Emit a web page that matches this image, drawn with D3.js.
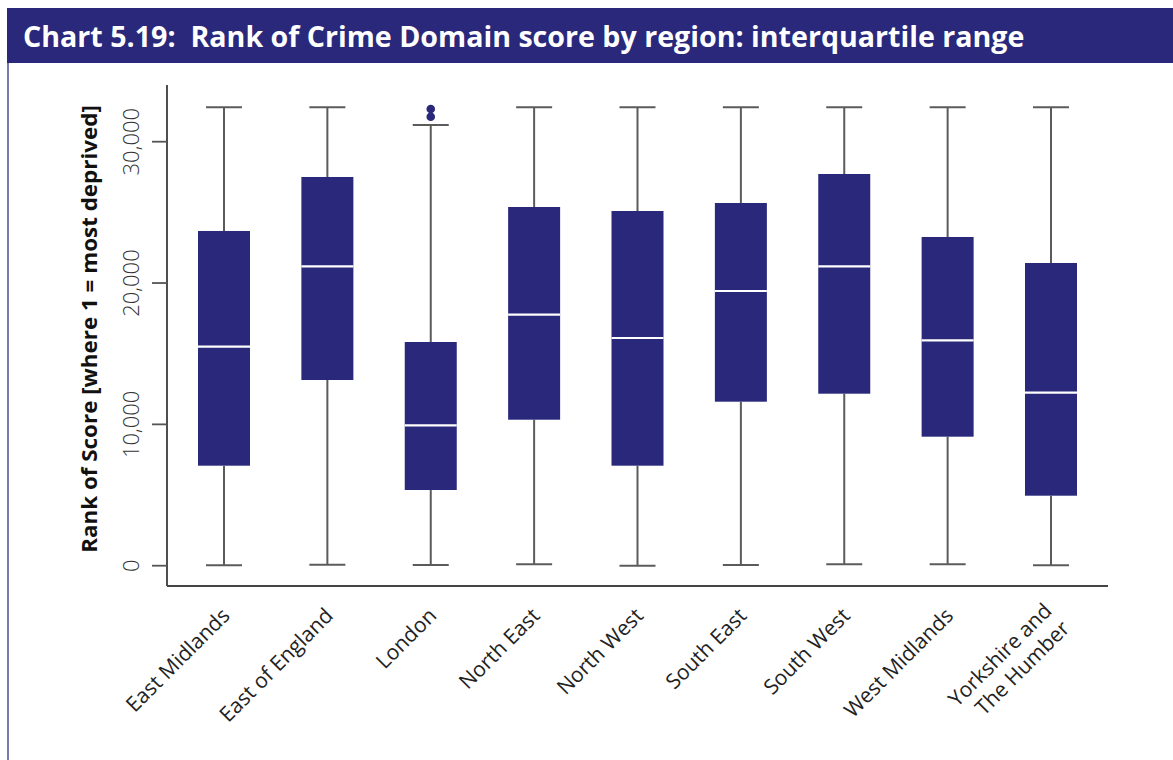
<!DOCTYPE html>
<html><head><meta charset="utf-8">
<script src="https://cdn.jsdelivr.net/npm/d3@7"></script>
<style>body{margin:0;background:#fff}svg{display:block}</style>
</head><body><svg id="c" width="1173" height="760"></svg>
<script>
// ---- data ----
const regions = ["East Midlands","East of England","London","North East","North West","South East","South West","West Midlands","Yorkshire and The Humber"];
const labelLines = [["East Midlands"],["East of England"],["London"],["North East"],["North West"],["South East"],["South West"],["West Midlands"],["Yorkshire and","The Humber"]];
const whiskerLow  = [30, 70, 50, 100, 1, 50, 100, 100, 30];
const q1          = [7076, 13139, 5356, 10330, 7076, 11604, 12170, 9128, 4953];
const median      = [15496, 21184, 9934, 17760, 16111, 19437, 21184, 15949, 12241];
const q3          = [23683, 27503, 15828, 25380, 25097, 25663, 27715, 23258, 21418];
const whiskerHigh = [32440, 32440, 31183, 32440, 32440, 32440, 32440, 32440, 32440];
const outlierRegion = ["London", "London"];
const outlierValue  = [32314, 31770];
const yTicks = [0, 10000, 20000, 30000];
const title = "Chart 5.19:\u00a0 Rank of Crime Domain score by region: interquartile range";
const yTitle = "Rank of Score [where 1 = most deprived]";

// ---- styles ----
const NAVY = "#29287b", WHISK = "#5b5b5b";
const FONT = "'Open Sans', 'Noto Sans', sans-serif";
const svg = d3.select("#c");

// frame
svg.append("rect").attr("x", 7).attr("y", 8).attr("width", 1166).attr("height", 55).attr("fill", NAVY);
svg.append("line").attr("x1", 8).attr("x2", 8).attr("y1", 63).attr("y2", 760).attr("stroke", "#4a4a8f").attr("stroke-width", 1.5);

function fitX(sel, target) {
  const w = sel.node().getComputedTextLength();
  const x = +sel.attr("x"), y = +sel.attr("y");
  sel.attr("x", 0).attr("y", 0)
     .attr("transform", `translate(${x},${y}) scale(${target / w},1)`);
}
const t = svg.append("text").attr("x", 23).attr("y", 47)
  .attr("fill", "#fff").attr("font-family", FONT)
  .attr("font-weight", 700).attr("font-size", 29).text(title);
fitX(t, 1002);

// scales
const y = d3.scaleLinear().domain([0, 30000]).range([565.7, 141.7]);
const x = d3.scalePoint().domain(regions).range([224, 1051]);
const yTop = y.invert(85), yBot = y.invert(586);
const xLeft = 167, xRight = 1108;

// axes lines
svg.append("line").attr("x1", xLeft).attr("x2", xLeft).attr("y1", y(yTop)).attr("y2", y(yBot))
  .attr("stroke", "#222").attr("stroke-width", 1.6);
svg.append("line").attr("x1", xLeft).attr("x2", xRight).attr("y1", y(yBot)).attr("y2", y(yBot))
  .attr("stroke", "#444").attr("stroke-width", 1.8);

// y ticks
const yAxis = d3.axisLeft(y).tickValues(yTicks).tickSize(15).tickFormat(d3.format(","));
const gy = svg.append("g").attr("transform", `translate(${xLeft},0)`).call(yAxis);
gy.select(".domain").remove();
gy.selectAll(".tick").attr("transform", null);
gy.selectAll(".tick line").attr("stroke", "#555").attr("stroke-width", 1.8)
  .each(function(d){ d3.select(this).attr("y1", y(d)).attr("y2", y(d)); });
gy.selectAll(".tick text")
  .attr("font-family", FONT).attr("font-weight", 300)
  .attr("font-size", 22).attr("fill", "#333")
  .attr("text-anchor", "middle").attr("dy", "0.35em")
  .each(function(d){ d3.select(this).attr("transform", `translate(-36,${y(d)}) rotate(-90)`).attr("x",0).attr("y",0); });

// y title
const yt = svg.append("text")
  .attr("font-family", FONT).attr("font-weight", 700)
  .attr("font-size", 22).attr("fill", "#111").attr("text-anchor", "middle")
  .attr("transform", "translate(97,329) rotate(-90)").text(yTitle);
{
  const w = yt.node().getComputedTextLength();
  yt.attr("transform", `translate(97,329) rotate(-90) scale(${448 / w},1)`);
}

// boxes
const boxW = 52, capW = 36;
const g = svg.append("g");
regions.forEach((r, i) => {
  const cx = x(r);
  g.append("line").attr("x1", cx).attr("x2", cx).attr("y1", y(whiskerHigh[i])).attr("y2", y(q3[i]))
    .attr("stroke", WHISK).attr("stroke-width", 2);
  g.append("line").attr("x1", cx).attr("x2", cx).attr("y1", y(q1[i])).attr("y2", y(whiskerLow[i]))
    .attr("stroke", WHISK).attr("stroke-width", 2);
  [whiskerHigh[i], whiskerLow[i]].forEach(v => {
    g.append("line").attr("x1", cx - capW / 2).attr("x2", cx + capW / 2).attr("y1", y(v)).attr("y2", y(v))
      .attr("stroke", WHISK).attr("stroke-width", 2);
  });
  g.append("rect").attr("x", cx - boxW / 2).attr("width", boxW)
    .attr("y", y(q3[i])).attr("height", y(q1[i]) - y(q3[i])).attr("fill", NAVY);
  g.append("line").attr("x1", cx - boxW / 2).attr("x2", cx + boxW / 2).attr("y1", y(median[i])).attr("y2", y(median[i]))
    .attr("stroke", "#fff").attr("stroke-width", 2.2);
});
outlierRegion.forEach((r, i) => {
  g.append("circle").attr("cx", x(r)).attr("cy", y(outlierValue[i])).attr("r", 4.3).attr("fill", NAVY);
});

// x labels
regions.forEach((r, i) => {
  const cx = x(r);
  const lines = labelLines[i];
  const txt = svg.append("text")
    .attr("font-family", FONT).attr("font-weight", 400)
    .attr("font-size", 21).attr("fill", "#222").attr("text-anchor", "end")
    .attr("transform", `translate(${cx + 7},617) rotate(-45)`);
  if (lines.length === 1) {
    txt.append("tspan").attr("x", 0).attr("y", 0).text(lines[0]);
  } else {
    txt.append("tspan").attr("x", 0).attr("y", -7).text(lines[0]);
    txt.append("tspan").attr("x", 0).attr("y", 18).text(lines[1]);
  }
});
</script></body></html>
